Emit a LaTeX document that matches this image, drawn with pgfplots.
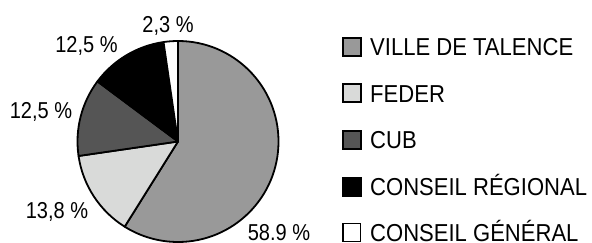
\documentclass[border=0pt]{standalone}
\usepackage{pgfplots}
\pgfplotsset{compat=1.18}
\usepackage{pgfplotstable}
\usepackage{fontspec}
\setmainfont{Liberation Sans}[FakeStretch=0.9]
\newfontfamily\labfont{Liberation Sans}[FakeStretch=0.87]
\definecolor{cVille}{HTML}{999999}
\definecolor{cFeder}{HTML}{D9DAD9}
\definecolor{cCub}{HTML}{555555}
\definecolor{cCR}{HTML}{000000}
\definecolor{cCG}{HTML}{FFFFFF}

\pgfplotstableread{
value
58.9
13.8
12.5
12.5
2.3
}\piedata

\tikzset{
  lab/.style={anchor=base, inner sep=0pt, font=\labfont\fontsize{23bp}{26bp}\selectfont},
  leg/.style={anchor=base west, inner sep=0pt, font=\fontsize{24.5bp}{28bp}\selectfont},
  slice/.style={draw=black, line width=1.8bp, line join=round},
}

\begin{document}
\begin{tikzpicture}
\useasboundingbox (0,0) rectangle (592bp,243bp);
\clip (0,0) rectangle (592bp,243bp);
\pgfplotstablegetelem{0}{value}\of\piedata\pgfmathsetmacro\vA{\pgfplotsretval}
\pgfplotstablegetelem{1}{value}\of\piedata\pgfmathsetmacro\vB{\pgfplotsretval}
\pgfplotstablegetelem{2}{value}\of\piedata\pgfmathsetmacro\vC{\pgfplotsretval}
\pgfplotstablegetelem{3}{value}\of\piedata\pgfmathsetmacro\vD{\pgfplotsretval}
\pgfplotstablegetelem{4}{value}\of\piedata\pgfmathsetmacro\vE{\pgfplotsretval}
\pgfmathsetmacro\aO{90}
\pgfmathsetmacro\aA{\aO-3.6*\vA}
\pgfmathsetmacro\aB{\aA-3.6*\vB}
\pgfmathsetmacro\aC{\aB-3.6*\vC}
\pgfmathsetmacro\aD{\aC-3.6*\vD}
\pgfmathsetmacro\aE{\aD-3.6*\vE}
\def\cx{178}\def\cy{101.5}\def\rr{100.5bp}
\begin{axis}[
  x=1bp, y=1bp,
  xmin=0, xmax=592, ymin=0, ymax=243,
  hide axis, clip=false,
  at={(0,0)}, anchor=south west,
]
\filldraw[slice, fill=cVille] (axis cs:\cx,\cy) -- ++(\aO:\rr) arc[start angle=\aO, end angle=\aA, radius=\rr] -- cycle;
\filldraw[slice, fill=cFeder] (axis cs:\cx,\cy) -- ++(\aA:\rr) arc[start angle=\aA, end angle=\aB, radius=\rr] -- cycle;
\filldraw[slice, fill=cCub] (axis cs:\cx,\cy) -- ++(\aB:\rr) arc[start angle=\aB, end angle=\aC, radius=\rr] -- cycle;
\filldraw[slice, fill=cCR] (axis cs:\cx,\cy) -- ++(\aC:\rr) arc[start angle=\aC, end angle=\aD, radius=\rr] -- cycle;
\filldraw[slice, fill=cCG] (axis cs:\cx,\cy) -- ++(\aD:\rr) arc[start angle=\aD, end angle=\aE, radius=\rr] -- cycle;
% percentage labels
\node[lab] at (axis cs:168,210.5) {2,3 \%};
\node[lab] at (axis cs:86.5,191) {12,5 \%};
\node[lab] at (axis cs:41,125) {12,5 \%};
\node[lab] at (axis cs:57,25) {13,8 \%};
\node[lab] at (axis cs:279,2.5) {58.9 \%};
% legend
\filldraw[fill=cVille, draw=black, line width=2bp] (axis cs:343,187.3) rectangle (axis cs:360.5,205.3);
\node[leg] at (axis cs:370,187.5) {VILLE DE TALENCE};
\filldraw[fill=cFeder, draw=black, line width=2bp] (axis cs:343,140.7) rectangle (axis cs:360.5,158.7);
\node[leg] at (axis cs:370,140.9) {FEDER};
\filldraw[fill=cCub, draw=black, line width=2bp] (axis cs:343,94) rectangle (axis cs:360.5,112);
\node[leg] at (axis cs:370,94.2) {CUB};
\filldraw[fill=cCR, draw=black, line width=2bp] (axis cs:343,47.3) rectangle (axis cs:360.5,65.3);
\node[leg] at (axis cs:370,47.5) {CONSEIL RÉGIONAL};
\filldraw[fill=cCG, draw=black, line width=1.4bp] (axis cs:343,1.5) rectangle (axis cs:360.5,19.5);
\node[leg] at (axis cs:370,2) {CONSEIL GÉNÉRAL};
\end{axis}
\end{tikzpicture}
\end{document}
